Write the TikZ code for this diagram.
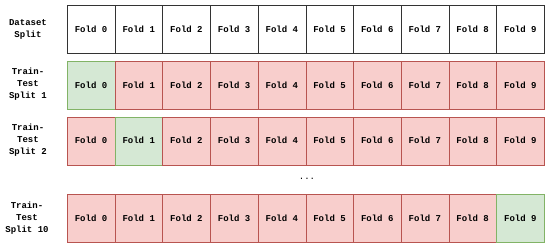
\documentclass[tikz,border=0pt]{standalone}
\usepackage{fontspec}
\setmonofont{Liberation Mono}
\begin{document}
\begin{tikzpicture}[x=1pt,y=-1pt,
  cell/.style={draw=black!70, minimum width=47.7pt, minimum height=48pt, anchor=north west, inner sep=0pt, font=\ttfamily\bfseries\fontsize{9}{11}\selectfont},
  wcell/.style={cell, fill=white, draw=black!80},
  gcell/.style={cell, fill=green!8!white, fill={rgb,255:red,213;green,232;blue,212}, draw={rgb,255:red,130;green,179;blue,102}},
  rcell/.style={cell, fill={rgb,255:red,248;green,206;blue,204}, draw={rgb,255:red,184;green,84;blue,80}},
  lab/.style={align=center, font=\ttfamily\bfseries\fontsize{9}{12}\selectfont, inner sep=0pt}]
\useasboundingbox (0,0) rectangle (550,247);
% row 0
\foreach \i in {0,...,9} {
  \node[wcell] (a\i) at ({67+47.7*\i},5) {Fold \i};
}
\foreach \i in {0,...,9} {
  \ifnum\i=0 \node[gcell] (b\i) at ({67+47.7*\i},61) {Fold \i};
  \else \node[rcell] (b\i) at ({67+47.7*\i},61) {Fold \i}; \fi
}
\foreach \i in {0,...,9} {
  \ifnum\i=1 \node[gcell] (c\i) at ({67+47.7*\i},116.5) {Fold \i};
  \else \node[rcell] (c\i) at ({67+47.7*\i},116.5) {Fold \i}; \fi
}
\foreach \i in {0,...,9} {
  \ifnum\i=9 \node[gcell] (d\i) at ({67+47.7*\i},194) {Fold \i};
  \else \node[rcell] (d\i) at ({67+47.7*\i},194) {Fold \i}; \fi
}
\node[lab] (l0) at (28,29) {Dataset\\Split};
\node[lab] (l1) at (28,84.5) {Train-\\Test\\Split 1};
\node[lab] (l2) at (28,140) {Train-\\Test\\Split 2};
\node[lab] (l3) at (27,218) {Train-\\Test\\Split 10};
\node[font=\ttfamily\fontsize{9}{11}\selectfont, inner sep=0pt] (dots) at (307,179) {...};
\end{tikzpicture}
\end{document}
